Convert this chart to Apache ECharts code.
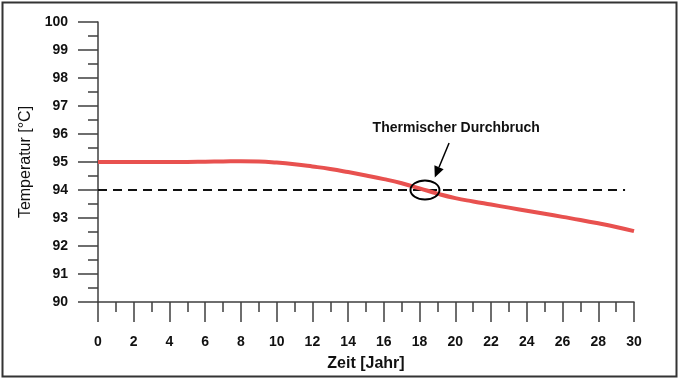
<!DOCTYPE html>
<html>
<head>
<meta charset="utf-8">
<script src="https://cdn.jsdelivr.net/npm/echarts@6/dist/echarts.min.js"></script>
<style>
html,body{margin:0;padding:0;background:#fff;}
#c{width:680px;height:380px;}
</style>
</head>
<body>
<div id="c"></div>
<script>
// Data
const years = [0,1,2,3,4,5,6,7,8,9,10,11,12,13,14,15,16,17,18,19,20,21,22,23,24,25,26,27,28,29,30];
const temperature = [95.00,95.00,95.00,95.00,95.00,95.00,95.01,95.02,95.03,95.02,94.98,94.92,94.84,94.75,94.64,94.52,94.39,94.24,94.06,93.87,93.71,93.59,93.48,93.37,93.26,93.15,93.04,92.93,92.81,92.68,92.53];
const thresholdX = [0, 29.5];
const thresholdY = 94;
const xTicks = {min:0, max:30, interval:2};
const yTicks = {min:90, max:100, interval:1};
const annotationText = 'Thermischer Durchbruch';
const annotationTextPos = [20.05, 96.2];
const arrowFrom = [19.65, 95.68];
const arrowTo = [18.85, 94.45];
const circleCenter = [18.3, 94.0];
const xName = 'Zeit [Jahr]';
const yName = 'Temperatur [°C]';

const FONT = '"Liberation Sans", Arial, sans-serif';
const chart = echarts.init(document.getElementById('c'), null, {renderer:'canvas'});
const axisColor = '#3f3f3f';
const option = {
  animation:false,
  backgroundColor:'#fff',
  grid:{left:98, right:46, top:22, bottom:78},
  xAxis:{
    type:'value', min:xTicks.min, max:xTicks.max, interval:xTicks.interval,
    name:xName, nameLocation:'middle', nameGap:54,
    nameTextStyle:{fontFamily:FONT, fontWeight:'bold', fontSize:16, color:'#111'},
    axisLine:{show:true, onZero:false, lineStyle:{color:axisColor, width:1.5}},
    axisTick:{show:true, length:20, lineStyle:{color:axisColor, width:1.5}},
    minorTick:{show:true, splitNumber:2, length:10, lineStyle:{color:axisColor, width:1.5}},
    axisLabel:{margin:33, fontFamily:FONT, fontWeight:'bold', fontSize:14, color:'#111'},
    splitLine:{show:false}
  },
  yAxis:{
    type:'value', min:yTicks.min, max:yTicks.max, interval:yTicks.interval,
    name:yName, nameLocation:'middle', nameGap:61,
    nameTextStyle:{fontFamily:FONT, fontWeight:'normal', fontSize:16, color:'#111'},
    axisLine:{show:true, lineStyle:{color:axisColor, width:1.5}},
    axisTick:{show:true, length:20, lineStyle:{color:axisColor, width:1.5}},
    minorTick:{show:true, splitNumber:2, length:10, lineStyle:{color:axisColor, width:1.5}},
    axisLabel:{margin:30, fontFamily:FONT, fontWeight:'bold', fontSize:14, color:'#111'},
    splitLine:{show:false}
  },
  series:[
    {
      type:'line', data:thresholdX.map(x=>[x, thresholdY]), symbol:'none',
      lineStyle:{color:'#111', width:2, type:[9,6]}, z:2
    },
    {
      type:'line', data:years.map((y,i)=>[y, temperature[i]]), symbol:'none', smooth:0.5,
      lineStyle:{color:'#e8514f', width:4}, z:3
    }
  ]
};
chart.setOption(option);

const c = chart.convertToPixel({gridIndex:0}, circleCenter);
const t = chart.convertToPixel({gridIndex:0}, annotationTextPos);
const a0 = chart.convertToPixel({gridIndex:0}, arrowFrom);
const a1 = chart.convertToPixel({gridIndex:0}, arrowTo);
const dx = a1[0]-a0[0], dy = a1[1]-a0[1];
const len = Math.sqrt(dx*dx+dy*dy), ux = dx/len, uy = dy/len;
const headLen = 11, headW = 5;
const base = [a1[0]-ux*headLen, a1[1]-uy*headLen];
chart.setOption({
  graphic:[
    {type:'rect', shape:{x:2.5, y:2.5, width:674, height:374}, style:{fill:'none', stroke:'#333', lineWidth:2}, z:10},
    {type:'ellipse', shape:{cx:c[0], cy:c[1], rx:14.5, ry:9.5}, style:{fill:'none', stroke:'#000', lineWidth:2}, z:10},
    {type:'line', shape:{x1:a0[0], y1:a0[1], x2:base[0], y2:base[1]}, style:{stroke:'#000', lineWidth:1.5}, z:10},
    {type:'polygon', shape:{points:[[a1[0],a1[1]],[base[0]-uy*headW, base[1]+ux*headW],[base[0]+uy*headW, base[1]-ux*headW]]}, style:{fill:'#000'}, z:10},
    {type:'text', x:t[0], y:t[1], style:{text:annotationText, fontFamily:FONT, fontWeight:'bold', fontSize:14, fill:'#111', align:'center', verticalAlign:'middle'}, z:10}
  ]
});
</script>
</body>
</html>
